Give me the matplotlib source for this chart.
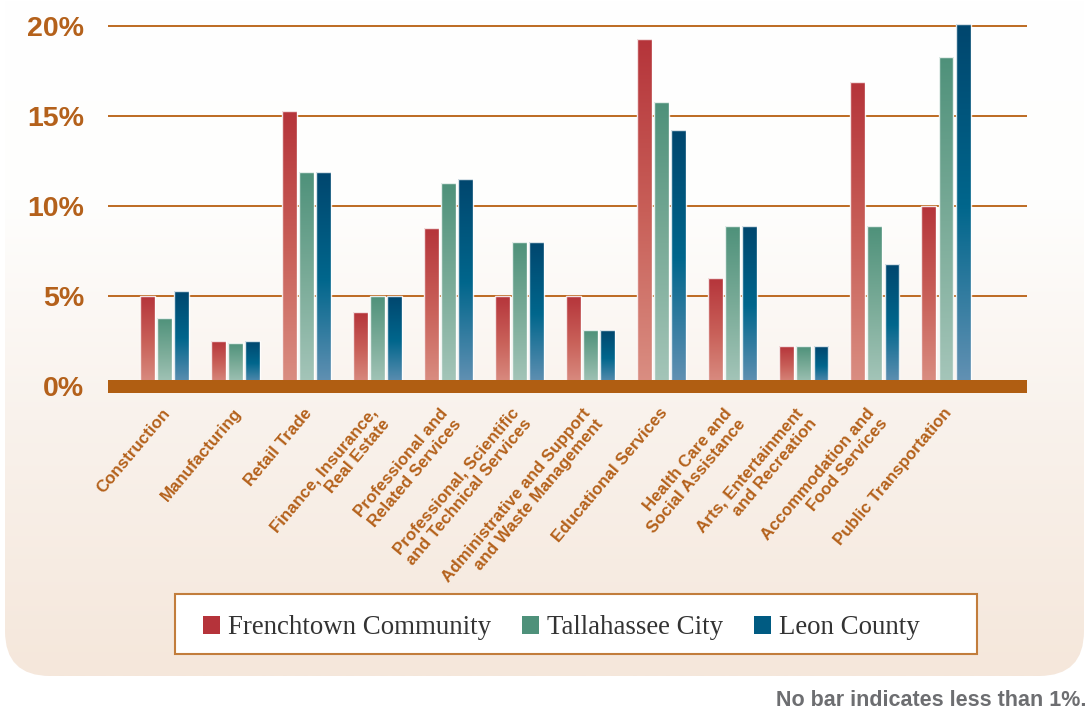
import numpy as np
import matplotlib
matplotlib.use('Agg')
import matplotlib.pyplot as plt
from matplotlib.patches import FancyBboxPatch, Rectangle, Patch
from matplotlib.colors import LinearSegmentedColormap, to_rgb
import matplotlib.transforms as mtransforms

# ---------------- data ----------------
categories = ['Construction', 'Manufacturing', 'Retail Trade',
              'Finance, Insurance,\nReal Estate',
              'Professional and\nRelated Services',
              'Professional, Scientific\nand Technical Services',
              'Administrative and Support\nand Waste Management',
              'Educational Services',
              'Health Care and\nSocial Assistance',
              'Arts, Entertainment\nand Recreation',
              'Accommodation and\nFood Services',
              'Public Transportation']
frenchtown = [5.0, 2.5, 15.3, 4.1, 8.8, 5.0, 5.0, 19.3, 6.0, 2.2, 16.9, 10.0]
tallahassee = [3.8, 2.4, 11.9, 5.0, 11.3, 8.0, 3.1, 15.8, 8.9, 2.2, 8.9, 18.3]
leon = [5.3, 2.5, 11.9, 5.0, 11.5, 8.0, 3.1, 14.2, 8.9, 2.2, 6.8, 20.1]
series_names = ['Frenchtown Community', 'Tallahassee City', 'Leon County']
yticks = [0, 5, 10, 15, 20]
ytick_labels = ['0%', '5%', '10%', '15%', '20%']
footnote = 'No bar indicates less than 1%.'

# ---------------- style ----------------
W, H = 1089, 713
BROWN = '#b4611b'
GRID = '#bd6a22'
BAND = '#b05e12'
solid = ['#b5333a', '#4e917a', '#005b82']
cmaps = [
    LinearSegmentedColormap.from_list('r', ['#b5343a', '#c85f58', '#da8f83']),
    LinearSegmentedColormap.from_list('g', ['#4e917a', '#7aab98', '#a6c6ba']),
    LinearSegmentedColormap.from_list('b', ['#00466e', '#00668c', '#6592b4']),
]
SANS = ['Liberation Sans', 'DejaVu Sans']
SERIF = ['Liberation Serif', 'DejaVu Serif']

fig = plt.figure(figsize=(W / 100, H / 100), dpi=100)
fig.patch.set_facecolor('white')

# background rounded panel with vertical gradient
bg = fig.add_axes([0, 0, 1, 1], zorder=-5)
bg.set_xlim(0, W)
bg.set_ylim(H, 0)
bg.axis('off')
stops_y = np.array([0, 200, 420, 676])
stops_c = np.array([to_rgb('#ffffff'), to_rgb('#fefefd'), to_rgb('#f9f2ec'), to_rgb('#f5e7db')])
ys = np.linspace(0, 676, 400)
grad = np.stack([np.interp(ys, stops_y, stops_c[:, k]) for k in range(3)], axis=-1)[:, None, :]
panel = FancyBboxPatch((5, -60), 1079, 736, boxstyle='round,pad=0,rounding_size=45',
                       transform=bg.transData, facecolor='none', edgecolor='none')
bg.add_patch(panel)
im = bg.imshow(grad, extent=[5, 1084, 676, 0], aspect='auto', interpolation='bilinear')
im.set_clip_path(panel)
bg.set_xlim(0, W)
bg.set_ylim(H, 0)

# main axes
ax_left, ax_right, ax_top, ax_bottom = 108, 1027, 0, 395
ax = fig.add_axes([ax_left / W, 1 - ax_bottom / H, (ax_right - ax_left) / W, (ax_bottom - ax_top) / H])
ax.set_facecolor('none')
for s in ax.spines.values():
    s.set_visible(False)

x = np.arange(len(categories))
width = 0.21
offs = [-0.24, 0.0, 0.24]
all_series = [frenchtown, tallahassee, leon]
for vals, off, cm in zip(all_series, offs, cmaps):
    bars = ax.bar(x + off, vals, width, facecolor='none',
                  edgecolor=(1, 1, 1, 0.85), linewidth=1.0, zorder=3)
    for rect in bars:
        x0, w, h = rect.get_x(), rect.get_width(), rect.get_height()
        g = np.linspace(0, 1, 256).reshape(-1, 1)
        bim = ax.imshow(g, extent=[x0, x0 + w, 0, h], origin='upper', aspect='auto',
                        cmap=cm, zorder=2, interpolation='bilinear')
        bim.set_clip_path(rect)

# baseline band
ax.axhspan(-0.39, 0.33, color=BAND, zorder=4, linewidth=0)

ax.set_xlim(-0.795, 12.14)
ax.set_ylim(-0.5, 21.44)
ax.set_axisbelow(True)
ax.yaxis.grid(True, color=GRID, linewidth=1.4)
ax.xaxis.grid(False)

ax.set_yticks(yticks, ytick_labels)
ax.tick_params(axis='y', length=0, pad=17, labelsize=20.5, labelcolor=BROWN)
for lbl in ax.get_yticklabels():
    lbl.set_fontweight('bold')
    lbl.set_fontfamily(SANS)

ax.set_xticks(x, categories)
ax.tick_params(axis='x', length=0, pad=7.5, labelsize=12.2, labelcolor=BROWN)
for lbl in ax.get_xticklabels():
    lbl.set_fontweight('bold')
    lbl.set_fontfamily(SANS)
    lbl.set_rotation(50)
    lbl.set_rotation_mode('anchor')
    lbl.set_ha('right')
    lbl.set_va('top')
    lbl.set_multialignment('right')
    lbl.set_linespacing(1.15)
    dx = -9 if '\n' in lbl.get_text() else -3
    lbl.set_transform(lbl.get_transform() + mtransforms.ScaledTranslation(dx / 100, 0, fig.dpi_scale_trans))

# legend box and legend
box = Rectangle((175 / W, 1 - 654 / H), 802 / W, 60 / H, transform=fig.transFigure,
                facecolor='white', edgecolor='#c27d3c', linewidth=1.5, zorder=1)
fig.patches.append(box)
handles = [Patch(facecolor=c, edgecolor='none') for c in solid]
leg = fig.legend(handles, series_names, loc='center left',
                 bbox_to_anchor=(203 / W, 1 - 628 / H), ncol=3, frameon=False,
                 borderpad=0, borderaxespad=0, handlelength=0.62, handleheight=0.68,
                 handletextpad=0.3, columnspacing=1.15,
                 prop={'family': SERIF, 'size': 19.4})
for t in leg.get_texts():
    t.set_color('#333333')

fig.text(1086 / W, 1 - 706 / H, footnote, ha='right', va='baseline', fontsize=15.5,
         fontweight='bold', color='#6d6e71', family=SANS)

fig.savefig('out.png', dpi=100)
